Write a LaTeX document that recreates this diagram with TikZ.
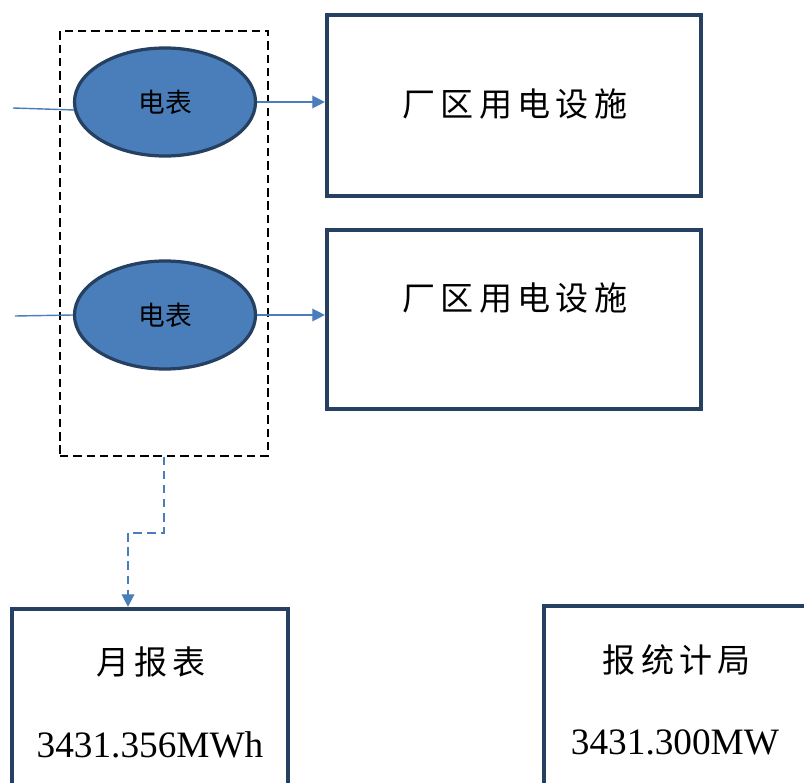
\documentclass[tikz,border=0pt]{standalone}
\usepackage{fontspec}
\setmainfont{Liberation Serif}
\newfontfamily\cjk{Noto Sans CJK SC}
\newfontfamily\cjkw{Noto Sans CJK SC}[LetterSpace=16]
\usetikzlibrary{arrows.meta,shapes.geometric}
\definecolor{meterblue}{RGB}{74,126,187}
\definecolor{navy}{RGB}{37,64,97}

\begin{document}
\begin{tikzpicture}[x=0.025cm,y=-0.025cm,
    meter/.style={ellipse,draw=navy,line width=2.3pt,fill=meterblue,inner sep=0pt,
        minimum width=4.525cm,minimum height=2.7cm,font=\cjk\fontsize{19}{19}\selectfont},
    unit/.style={rectangle,draw=navy,line width=2.9pt,inner sep=0pt},
    feed/.style={meterblue,line width=1pt},
    link/.style={feed,-{Triangle[length=9pt,width=9pt]}},
    bigtext/.style={font=\cjkw\fontsize{23.5}{23.5}\selectfont},
    numtext/.style={font=\fontsize{26.5}{27}\selectfont}]
    \useasboundingbox (0,0) rectangle (804,783);
    \clip (0,0) rectangle (804,783);

    % Draw meters inside the dashed group
    \node[draw,dash pattern=on 6pt off 3.5pt,line width=1.1pt,minimum width=5.2cm,minimum height=10.625cm] (grp) at (164,243.5) {};
    \node[meter] (m1) at (165,102) {电表};
    \node[meter] (m2) at (165,315) {电表};

    % Draw plant boxes
    \node[unit,minimum width=9.35cm,minimum height=4.525cm] (f1) at (514,105.5) {};
    \node[unit,minimum width=9.35cm,minimum height=4.475cm] (f2) at (514,319.5) {};
    \node[bigtext] at (515,104) {厂区用电设施};
    \node[bigtext] at (515,298) {厂区用电设施};

    % Draw report boxes
    \node[unit,minimum width=6.9cm,minimum height=4.8cm] (mr) at (150,705) {};
    \node[unit,minimum width=7.15cm,minimum height=4.85cm] (sb) at (687,703) {};
    \node[bigtext] at (151,662) {月报表};
    \node[numtext] at (150,745) {3431.356MWh};
    \node[bigtext] at (677,660) {报统计局};
    \node[numtext] at (675,742) {3431.300MW};

    % Draw feeds and arrows
    \coordinate (in1) at (13,108);
    \coordinate (in2) at (15,316);
    \draw[feed] (in1) -- (m1.185);
    \draw[feed] (in2) -- (m2.west);
    \draw[link] (m1.east) -- (m1.east -| f1.west);
    \draw[link] (m2.east) -- (m2.east -| f2.west);

    \coordinate (drop) at (128,533);
    \draw[link,dashed,dash pattern=on 6pt off 4pt] (grp.south) |- (drop) -- (drop |- mr.north);
\end{tikzpicture}
\end{document}
